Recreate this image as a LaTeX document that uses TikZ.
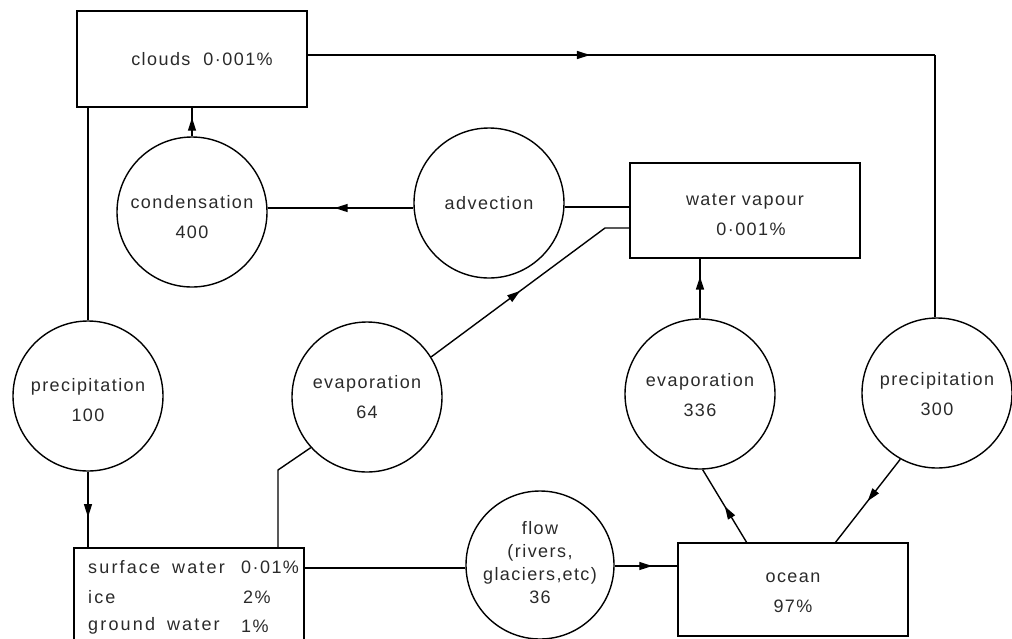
\documentclass[tikz,border=0pt]{standalone}
\usepackage{fontspec}
\setmainfont{Liberation Sans}[LetterSpace=8]
\usetikzlibrary{arrows.meta,decorations.markings}
\definecolor{txt}{HTML}{2A2A2A}
\newcommand{\ctext}[2][0pt]{\raisebox{#1}[\height][\depth]{\begin{tabular}{@{}c@{}}#2\end{tabular}}}
\newcommand{\wide}[1]{{\addfontfeature{LetterSpace=12}#1}}
\tikzset{
  every node/.style={font=\fontsize{18}{30}\selectfont, text=txt},
  line/.style={line width=1.4pt},
  box/.style={draw, line width=1.4pt, minimum width=230pt, inner sep=0pt, align=center},
  circ/.style={draw, circle, line width=1.4pt, minimum size=150pt, inner sep=0pt},
  lbl/.style={anchor=west, inner sep=0pt},
  arr/.style={postaction={decorate}, decoration={markings,
      mark=at position #1 with {\arrow{Triangle[length=13pt,width=8pt]}}}}
}
\begin{document}
\begin{tikzpicture}[x=1pt,y=-1pt]
\useasboundingbox (0,0) rectangle (1012,638);
\clip (0,0) rectangle (1012,638);

% boxes
\node[box, minimum height=96pt] (clouds) at (192,59) {\hspace{20pt}clouds\hspace{13pt}0·001\%};
\node[box, minimum height=95pt] (wv) at (745,210.5) {\ctext[-4pt]{water\hspace{6pt}vapour\\\hspace{12pt}0·001\%}};
\node[box, minimum height=93pt] (ocean) at (793,589.5) {\ctext[-2pt]{ocean\\97\%}};
\node[box, minimum height=110pt] (surf) at (189,603) {};
\node[lbl] (s1) at (88,567) {\wide{surface}\hspace{12pt}\wide{water}};
\node[lbl] (s1v) at (241,567) {0·01\%};
\node[lbl] (s2) at (88,597) {\wide{ice}};
\node[lbl] (s2v) at (243,597) {2\%};
\node[lbl] (s3) at (88,626) {\wide{ground}\hspace{12pt}\wide{water}};
\node[lbl] (s3v) at (241,626) {1\%};

% circles
\node[circ] (cond) at (192,212) {\ctext[-5pt]{condensation\\400}};
\node[circ] (adv) at (489,203) {advection};
\node[circ] (p100) at (88,396) {\ctext[-4pt]{precipitation\\100}};
\node[circ] (e64) at (367,397) {\ctext{evaporation\\64}};
\node[circ] (e336) at (700,394) {\ctext[-1pt]{evaporation\\336}};
\node[circ] (p300) at (937,393) {\ctext[-1pt]{precipitation\\300}};
\node[circ, minimum size=148pt, font=\fontsize{18}{23}\selectfont] (flow) at (540,565) {\ctext[1pt]{flow\\(rivers,\\glaciers,\hspace{1pt}etc)\\36}};

% corner coordinates
\coordinate (k1) at (935,55);
\coordinate (c1) at (88,107);
\coordinate (k2) at (605,228);
\coordinate (k3) at (278,470);
\coordinate (o1) at (747,543);
\coordinate (o2) at (835,543);

% connectors
\draw[line, arr=0.45] (clouds.east |- k1) -- (k1);
\draw[line] (k1) -- (p300.north -| k1);
\draw[line] (c1) -- (p100.north);
\draw[line, arr=0.6] (p100.south) -- (p100.south |- surf.north);
\draw[line, arr=0.65] (cond.north) -- (cond.north |- clouds.south);
\draw[line, arr=0.54] (adv.west |- 0,208) -- (cond.east |- 0,208);
\draw[line] (adv.east |- 0,207) -- (wv.west |- 0,207);
\draw[line, arr=0.46] (e64.32) -- (k2) -- (wv.west |- k2);
\draw[line] (e64.222) -- (k3) -- (k3 |- surf.north);
\draw[line] (surf.east |- 0,568) -- (flow.west |- 0,568);
\draw[line, arr=0.6] (flow.east |- 0,566) -- (ocean.west |- 0,566);
\draw[line, arr=0.5] (o1) -- (e336.272);
\draw[line, arr=0.5] (p300.241) -- (o2);
\draw[line, arr=0.7] (e336.north) -- (e336.north |- wv.south);
\end{tikzpicture}
\end{document}
